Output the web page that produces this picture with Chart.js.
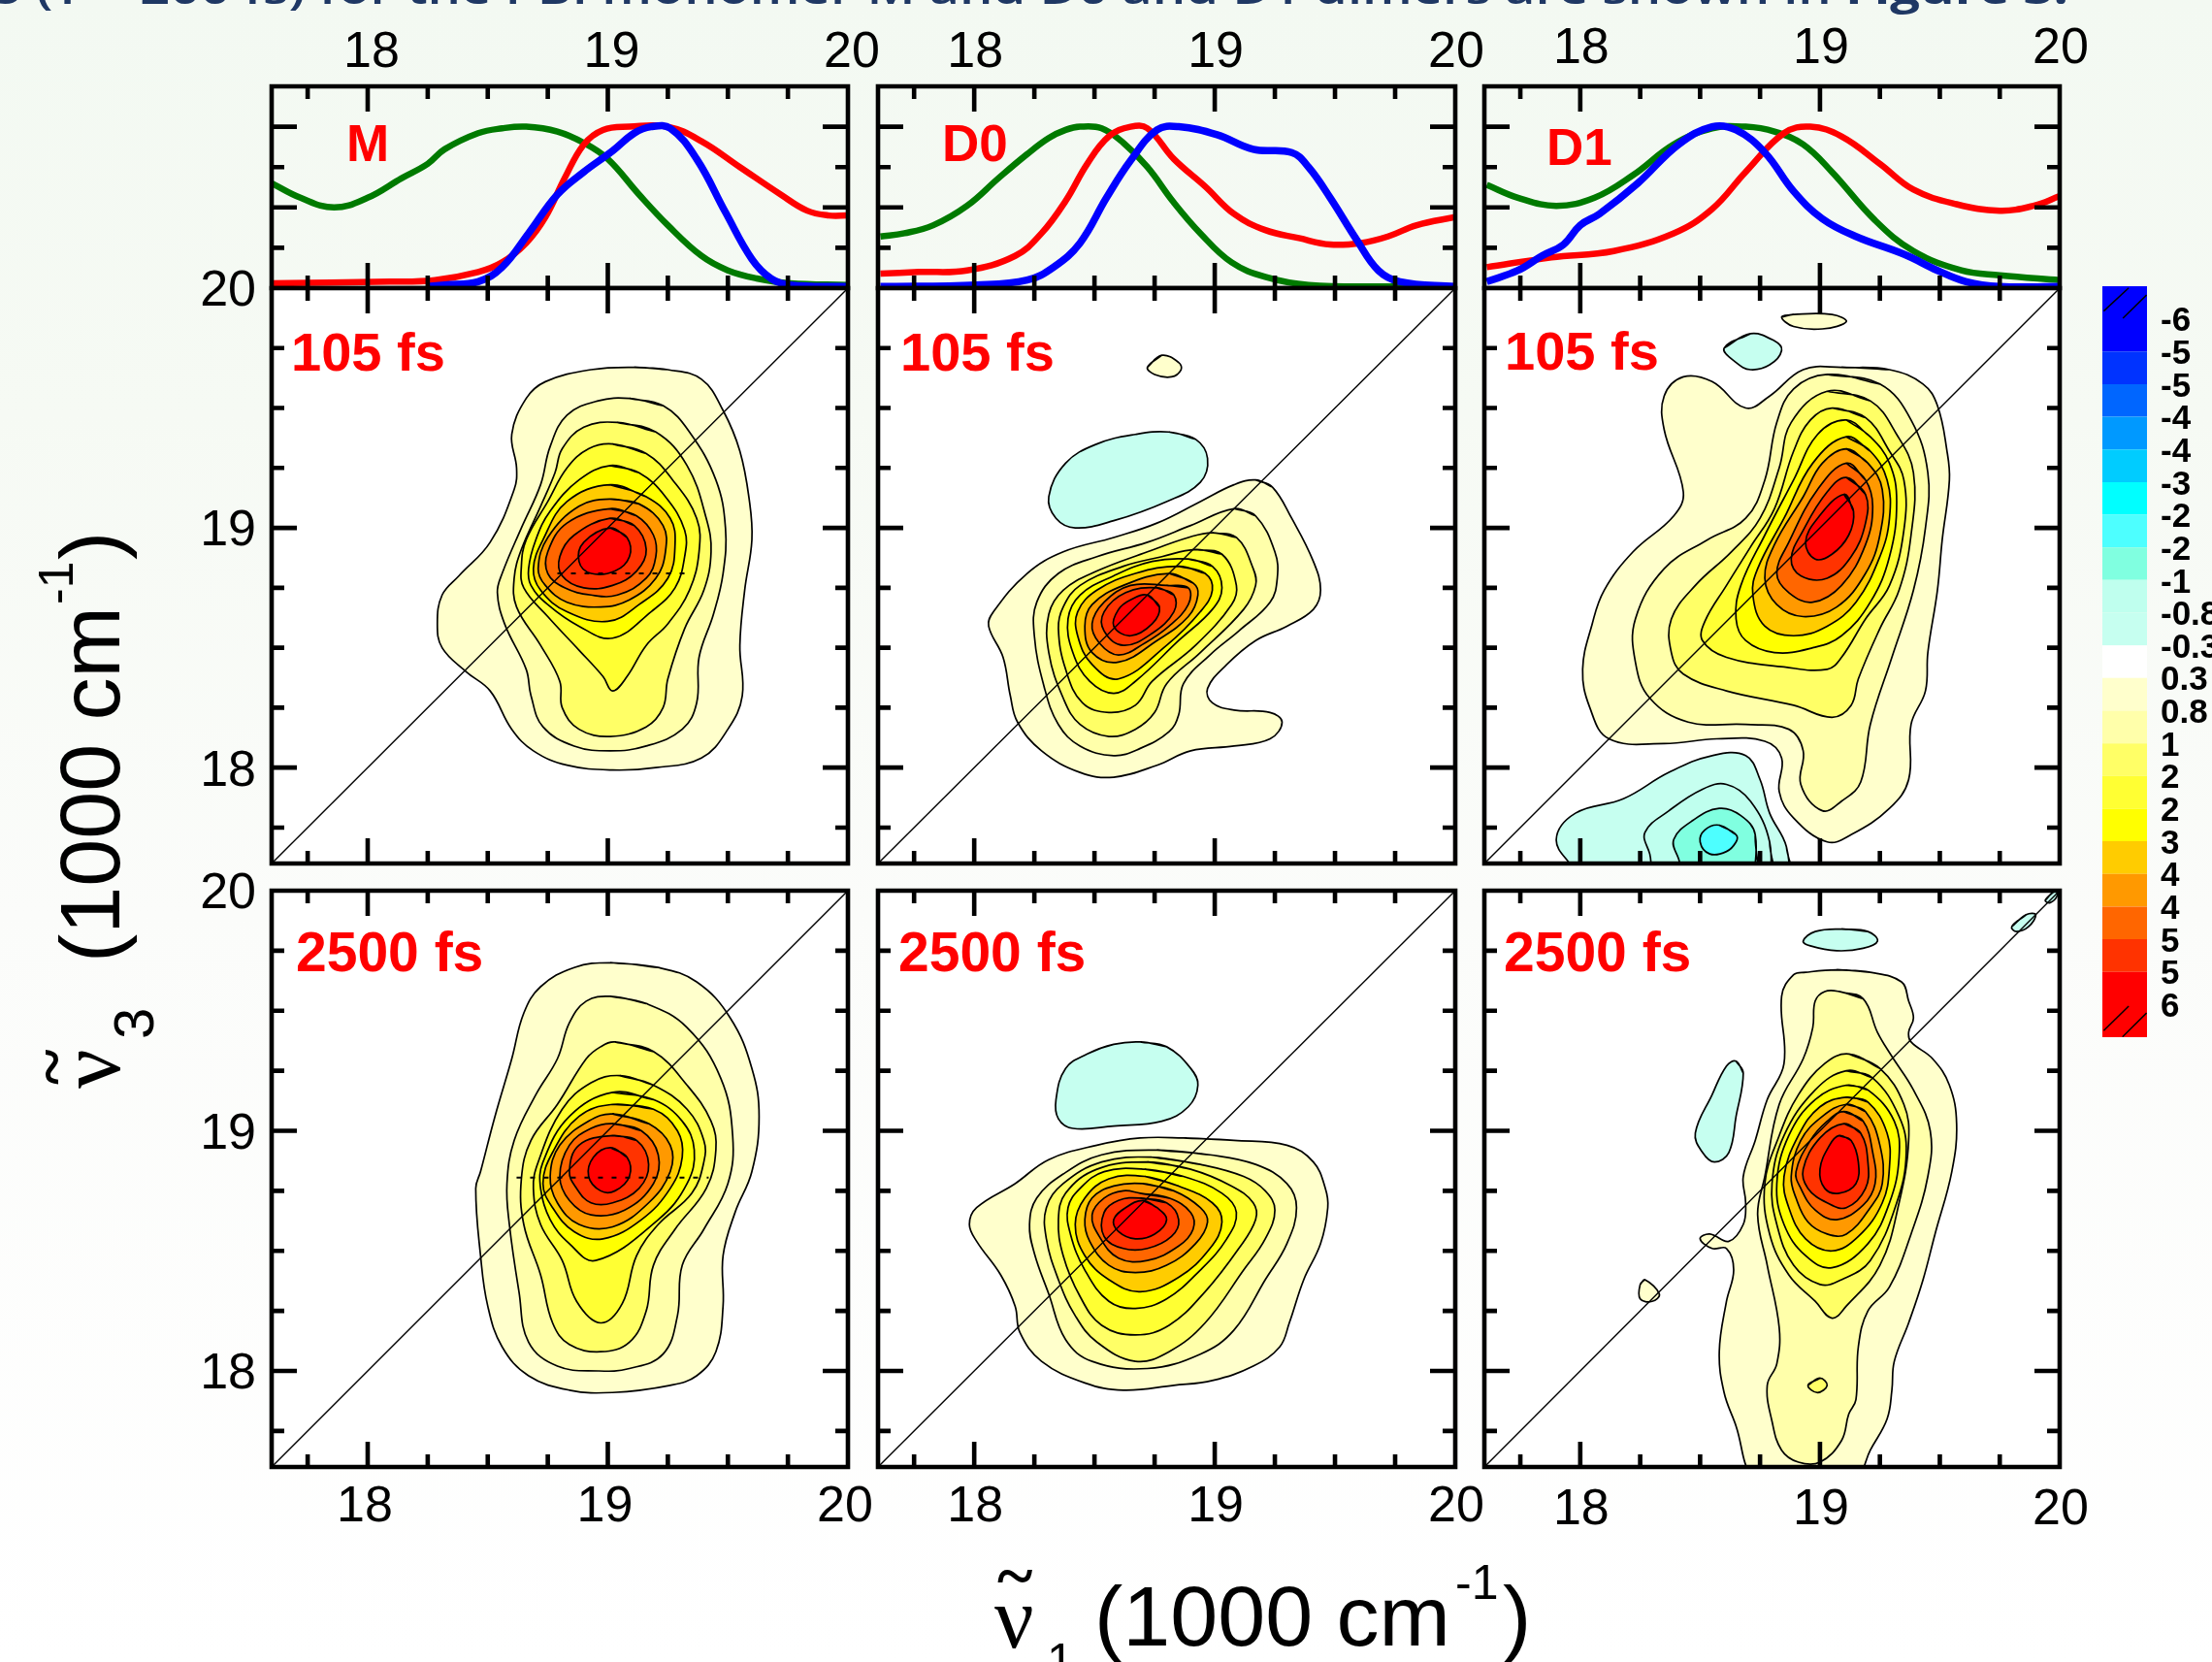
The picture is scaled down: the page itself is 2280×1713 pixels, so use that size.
<!DOCTYPE html>
<html><head><meta charset="utf-8">
<script src="https://cdn.jsdelivr.net/npm/chart.js@4"></script>
<style>
html,body{margin:0;padding:0;width:2280px;height:1713px;overflow:hidden;background:linear-gradient(180deg,#F3F9F2 0%,#F6FAF4 25%,#FBFCFA 55%,#FFFFFF 100%);}
canvas{position:absolute;}
svg{position:absolute;left:0;top:0;pointer-events:none;}
</style></head><body>
<script>
// ---------- axis values (1000 cm-1) ----------
const xTickValues=[17.75,18,18.25,18.5,18.75,19,19.25,19.5,19.75,20];
const yTickValues=[17.75,18,18.25,18.5,18.75,19,19.25,19.5,19.75,20];
const specYTicks=[0,0.25,0.5,0.75,1];
// ---------- linear absorption spectra: [x,y, x,y ...] ----------
const M_green=[17.60,.65,17.72,.56,17.86,.50,18.00,.56,18.14,.68,18.25,.77,18.32,.86,18.46,.96,18.56,.99,18.66,1.0,18.79,.97,18.90,.90,19.00,.80,19.13,.58,19.25,.39,19.39,.20,19.50,.11,19.62,.06,19.76,.03,20,.02];
const M_red=[17.60,.03,18.09,.04,18.28,.05,18.46,.10,18.56,.16,18.66,.28,18.74,.44,18.82,.68,18.90,.89,18.98,.98,19.09,1.0,19.25,1.0,19.39,.91,19.55,.75,19.72,.58,19.83,.48,19.92,.45,20,.45];
const M_blue=[18.25,.01,18.32,.02,18.46,.04,18.56,.13,18.67,.34,18.79,.58,18.90,.72,19.02,.85,19.11,.96,19.18,1.0,19.26,.99,19.37,.80,19.49,.47,19.60,.18,19.68,.06,19.76,.02,20,.01];
const D0_green=[17.61,.32,17.71,.34,17.83,.39,17.97,.51,18.10,.68,18.22,.83,18.31,.93,18.38,.98,18.44,1.0,18.53,.99,18.62,.90,18.72,.75,18.83,.53,18.94,.34,19.07,.16,19.21,.07,19.39,.02,19.74,.01,20,.01];
const D0_red=[17.61,.09,17.77,.10,17.97,.11,18.17,.20,18.28,.34,18.38,.54,18.47,.77,18.56,.94,18.65,1.0,18.72,.99,18.83,.80,18.96,.63,19.08,.46,19.21,.36,19.35,.31,19.48,.27,19.61,.28,19.72,.32,19.84,.39,20,.44];
const D0_blue=[17.61,.01,18.01,.02,18.22,.05,18.33,.13,18.44,.28,18.55,.56,18.65,.79,18.76,.98,18.85,1.0,19.01,.95,19.16,.86,19.32,.84,19.39,.75,19.48,.56,19.59,.30,19.68,.11,19.77,.04,20,.01];
const D1_green=[17.61,.64,17.74,.56,17.90,.51,18.06,.56,18.22,.70,18.39,.89,18.55,.99,18.69,1.0,18.81,.97,18.93,.89,19.05,.72,19.23,.42,19.39,.23,19.59,.11,19.75,.08,20,.05];
const D1_red=[17.61,.13,17.88,.19,18.14,.23,18.39,.34,18.55,.49,18.69,.72,18.85,.96,18.96,1.0,19.09,.94,19.25,.77,19.39,.61,19.57,.52,19.75,.48,19.89,.51,20,.57];
const D1_blue=[17.61,.04,17.74,.11,17.84,.20,17.93,.27,18.00,.39,18.08,.46,18.24,.65,18.41,.89,18.55,1.0,18.65,.98,18.77,.84,18.89,.60,19.01,.43,19.15,.32,19.35,.21,19.49,.11,19.61,.04,19.75,.01,20,.01];
// ---------- 2D contours, outermost (0.3) to innermost: [v1,v3, ...] ----------
const M_105=[
[19.11,19.67,19.25,19.66,19.39,19.62,19.48,19.49,19.55,19.32,19.59,19.11,19.60,18.95,19.57,18.74,19.55,18.51,19.56,18.30,19.50,18.16,19.39,18.04,19.20,18.00,19.02,17.99,18.83,18.01,18.69,18.07,18.60,18.16,18.51,18.32,18.41,18.40,18.31,18.50,18.29,18.60,18.31,18.72,18.38,18.80,18.51,18.94,18.61,19.16,18.62,19.25,18.60,19.39,18.66,19.54,18.74,19.61,18.93,19.66],
[19.09,19.54,19.23,19.51,19.34,19.40,19.45,19.20,19.49,19.00,19.48,18.81,19.44,18.64,19.38,18.46,19.37,18.27,19.31,18.16,19.16,18.09,19.01,18.07,18.86,18.09,18.73,18.17,18.68,18.30,18.66,18.41,18.57,18.60,18.54,18.73,18.56,18.81,18.64,19.00,18.72,19.18,18.76,19.34,18.83,19.47,18.96,19.53],
[19.04,19.44,19.20,19.40,19.33,19.26,19.41,19.04,19.43,18.90,19.40,18.74,19.32,18.58,19.25,18.37,19.23,18.25,19.16,18.17,19.01,18.13,18.88,18.16,18.81,18.25,18.80,18.36,18.72,18.51,18.62,18.67,18.61,18.79,18.64,18.91,18.72,19.09,18.78,19.23,18.81,19.33,18.90,19.42],
[19.02,19.35,19.16,19.31,19.27,19.20,19.37,19.04,19.38,18.90,19.34,18.74,19.25,18.60,19.16,18.51,19.08,18.38,19.02,18.32,18.98,18.38,18.88,18.49,18.75,18.63,18.65,18.75,18.64,18.84,18.66,18.95,18.75,19.11,18.83,19.25,18.92,19.33],
[19.01,19.26,19.13,19.23,19.24,19.13,19.32,18.99,19.32,18.88,19.28,18.75,19.18,18.65,19.02,18.54,18.88,18.59,18.75,18.68,18.68,18.76,18.67,18.83,18.70,18.95,18.76,19.07,18.88,19.20],
[19.01,19.18,19.16,19.13,19.26,19.04,19.28,18.93,19.25,18.79,19.13,18.68,19.00,18.61,18.83,18.65,18.72,18.74,18.69,18.83,18.73,18.95,18.83,19.11],
[19.01,19.12,19.13,19.10,19.23,19.01,19.24,18.90,19.20,18.79,19.09,18.70,18.97,18.67,18.83,18.69,18.74,18.76,18.71,18.83,18.75,18.96,18.88,19.09],
[19.01,19.08,19.12,19.05,19.19,18.97,19.20,18.88,19.16,18.79,19.04,18.72,18.93,18.72,18.82,18.75,18.75,18.81,18.75,18.90,18.83,19.02],
[19.01,19.04,19.11,19.01,19.16,18.91,19.12,18.82,19.02,18.76,18.90,18.75,18.81,18.80,18.80,18.88,18.86,18.97],
[19.01,19.00,19.08,18.96,19.09,18.88,19.03,18.82,18.93,18.81,18.88,18.86,18.90,18.94]];
const D0_105=[
[19.17,19.20,19.24,19.17,19.32,19.04,19.41,18.86,19.44,18.74,19.41,18.66,19.30,18.59,19.17,18.53,19.05,18.43,18.97,18.33,18.99,18.27,19.08,18.24,19.23,18.23,19.28,18.19,19.23,18.12,19.08,18.09,18.90,18.07,18.76,18.01,18.58,17.96,18.44,17.98,18.28,18.07,18.18,18.19,18.15,18.30,18.12,18.46,18.06,18.59,18.08,18.65,18.22,18.81,18.37,18.90,18.58,18.96,18.76,19.02,18.94,19.11,19.08,19.18],
[19.08,19.08,19.17,19.05,19.25,18.90,19.26,18.79,19.23,18.69,19.10,18.57,18.98,18.47,18.87,18.35,18.85,18.22,18.81,18.15,18.69,18.08,18.58,18.05,18.44,18.09,18.35,18.18,18.29,18.34,18.25,18.55,18.26,18.69,18.35,18.81,18.51,18.88,18.72,18.94,18.90,19.01],
[18.99,18.98,19.09,18.96,19.16,18.83,19.17,18.76,19.12,18.66,18.94,18.48,18.80,18.35,18.75,18.23,18.67,18.16,18.56,18.13,18.44,18.18,18.37,18.29,18.31,18.48,18.31,18.64,18.37,18.74,18.51,18.82,18.72,18.90,18.89,18.96],
[18.92,18.91,19.03,18.89,19.09,18.76,19.07,18.68,18.92,18.51,18.74,18.36,18.67,18.26,18.56,18.23,18.45,18.27,18.38,18.41,18.35,18.58,18.37,18.67,18.44,18.76,18.62,18.84,18.78,18.88],
[18.89,18.87,18.99,18.84,19.03,18.75,18.99,18.66,18.85,18.53,18.67,18.36,18.58,18.31,18.48,18.36,18.41,18.48,18.39,18.62,18.44,18.72,18.58,18.80,18.74,18.86],
[18.85,18.84,18.96,18.81,18.99,18.74,18.94,18.65,18.80,18.51,18.60,18.37,18.49,18.43,18.43,18.55,18.43,18.65,18.51,18.74,18.67,18.81],
[18.81,18.81,18.91,18.77,18.93,18.72,18.89,18.63,18.76,18.53,18.60,18.44,18.49,18.48,18.46,18.59,18.49,18.68,18.62,18.76],
[18.80,18.76,18.89,18.75,18.89,18.68,18.81,18.59,18.71,18.52,18.60,18.47,18.52,18.52,18.49,18.60,18.54,18.69,18.65,18.76],
[18.76,18.75,18.83,18.72,18.83,18.65,18.74,18.56,18.62,18.51,18.54,18.57,18.54,18.65,18.63,18.73],
[18.72,18.72,18.77,18.67,18.74,18.60,18.65,18.55,18.58,18.59,18.60,18.66,18.65,18.70]];
const D1_105=[
[19.09,19.67,19.29,19.66,19.43,19.60,19.49,19.51,19.53,19.32,19.54,19.20,19.51,18.95,19.49,18.74,19.45,18.48,19.44,18.32,19.38,18.18,19.37,17.95,19.29,17.83,19.13,17.72,19.03,17.69,18.89,17.79,18.83,17.90,18.84,18.04,18.77,18.11,18.57,18.12,18.35,18.10,18.12,18.12,18.04,18.25,18.01,18.41,18.05,18.60,18.10,18.74,18.22,18.90,18.39,19.05,18.43,19.15,18.35,19.41,18.35,19.55,18.43,19.63,18.55,19.61,18.69,19.50,18.79,19.55,18.93,19.66],
[19.03,19.64,19.25,19.60,19.38,19.45,19.45,19.23,19.44,19.00,19.39,18.74,19.30,18.46,19.21,18.18,19.17,17.94,19.09,17.86,19.01,17.82,18.92,17.93,18.93,18.07,18.87,18.16,18.69,18.18,18.45,18.19,18.29,18.29,18.23,18.44,18.23,18.62,18.35,18.83,18.53,18.95,18.69,19.04,18.77,19.20,18.82,19.44,18.89,19.58],
[19.03,19.57,19.21,19.53,19.32,19.39,19.39,19.23,19.38,18.97,19.33,18.74,19.25,18.58,19.16,18.37,19.13,18.26,19.05,18.21,18.89,18.26,18.61,18.32,18.43,18.39,18.38,18.48,18.38,18.62,18.48,18.76,18.63,18.90,18.75,19.04,18.83,19.25,18.88,19.44],
[19.05,19.50,19.19,19.46,19.29,19.32,19.35,19.20,19.35,18.99,19.29,18.76,19.19,18.62,19.09,18.46,19.03,18.41,18.85,18.42,18.61,18.46,18.51,18.53,18.52,18.61,18.61,18.76,18.71,18.92,18.81,19.08,18.89,19.32,18.96,19.45],
[19.11,19.45,19.21,19.38,19.29,19.27,19.32,19.11,19.29,18.88,19.21,18.69,19.09,18.55,18.97,18.50,18.81,18.48,18.69,18.53,18.65,18.62,18.67,18.76,18.77,18.97,18.89,19.20,18.99,19.39],
[19.11,19.38,19.21,19.32,19.28,19.20,19.29,19.04,19.25,18.88,19.15,18.69,19.03,18.59,18.89,18.55,18.77,18.59,18.72,18.72,18.74,18.83,18.85,19.04,18.97,19.27],
[19.11,19.33,19.20,19.27,19.26,19.16,19.25,18.97,19.19,18.81,19.07,18.67,18.93,18.63,18.82,18.68,18.77,18.79,18.81,18.93,18.93,19.13,19.01,19.27],
[19.11,19.27,19.19,19.20,19.22,19.09,19.19,18.93,19.09,18.76,18.97,18.69,18.87,18.73,18.82,18.81,18.87,18.94,18.99,19.16],
[19.11,19.21,19.19,19.14,19.19,19.02,19.13,18.88,19.03,18.79,18.92,18.80,18.88,18.87,18.93,18.99,19.03,19.15],
[19.10,19.14,19.14,19.07,19.12,18.97,19.05,18.89,18.98,18.87,18.94,18.94,18.99,19.04]];
const M_2500=[
[19.01,19.70,19.21,19.68,19.37,19.62,19.51,19.47,19.60,19.26,19.63,19.06,19.60,18.83,19.53,18.66,19.48,18.48,19.48,18.27,19.45,18.08,19.37,17.98,19.26,17.94,19.02,17.91,18.84,17.92,18.67,17.98,18.56,18.10,18.50,18.27,18.47,18.48,18.45,18.76,18.47,18.83,18.53,19.06,18.60,19.30,18.65,19.49,18.72,19.60,18.86,19.68],
[19.01,19.56,19.16,19.53,19.33,19.43,19.47,19.22,19.52,18.98,19.50,18.78,19.40,18.59,19.31,18.44,19.29,18.23,19.23,18.07,19.09,18.01,18.96,18.00,18.79,18.02,18.67,18.12,18.63,18.33,18.59,18.61,18.58,18.78,18.61,18.96,18.70,19.15,18.79,19.30,18.84,19.45,18.91,19.54],
[19.03,19.37,19.19,19.33,19.33,19.19,19.43,19.04,19.45,18.92,19.41,18.76,19.28,18.59,19.19,18.44,19.16,18.25,19.09,18.12,18.97,18.08,18.84,18.11,18.77,18.20,18.72,18.40,18.65,18.61,18.64,18.80,18.68,18.96,18.79,19.11,18.91,19.30,18.97,19.35],
[19.05,19.23,19.19,19.19,19.33,19.09,19.40,18.96,19.40,18.87,19.35,18.74,19.21,18.61,19.12,18.48,19.06,18.28,18.97,18.20,18.87,18.29,18.81,18.46,18.72,18.61,18.69,18.76,18.71,18.87,18.81,19.09,18.93,19.20],
[19.02,19.16,19.19,19.13,19.31,19.04,19.36,18.92,19.33,18.78,19.21,18.63,18.95,18.46,18.84,18.53,18.76,18.63,18.72,18.76,18.73,18.87,18.84,19.06],
[19.02,19.11,19.19,19.09,19.29,19.00,19.31,18.89,19.26,18.76,19.14,18.63,18.98,18.55,18.86,18.58,18.77,18.68,18.73,18.78,18.77,18.91,18.88,19.06],
[19.02,19.07,19.17,19.03,19.26,18.94,19.26,18.83,19.17,18.70,19.02,18.60,18.88,18.61,18.79,18.70,18.76,18.81,18.80,18.94,18.92,19.04],
[19.02,19.03,19.14,19.00,19.21,18.90,19.19,18.78,19.07,18.67,18.93,18.65,18.84,18.71,18.80,18.81,18.84,18.94,18.93,19.01],
[19.02,18.98,19.12,18.96,19.17,18.86,19.13,18.76,19.02,18.70,18.93,18.70,18.87,18.76,18.84,18.83,18.88,18.94],
[19.01,18.93,19.08,18.89,19.09,18.81,19.03,18.75,18.97,18.75,18.92,18.81,18.94,18.89]];
const D0_2500=[
[18.87,18.97,19.08,18.96,19.30,18.94,19.41,18.87,19.46,18.76,19.47,18.68,19.44,18.53,19.37,18.38,19.31,18.20,19.27,18.10,19.16,18.02,18.99,17.96,18.83,17.94,18.62,17.92,18.46,17.95,18.28,18.04,18.19,18.16,18.17,18.27,18.11,18.40,18.01,18.54,17.98,18.61,18.01,18.68,18.17,18.78,18.31,18.88,18.51,18.94,18.69,18.97],
[18.76,18.92,18.98,18.90,19.17,18.86,19.30,18.78,19.34,18.68,19.30,18.53,19.21,18.38,19.08,18.17,18.94,18.07,18.72,18.01,18.49,18.04,18.38,18.13,18.31,18.32,18.25,18.49,18.23,18.61,18.26,18.72,18.37,18.82,18.53,18.90],
[18.74,18.89,18.94,18.86,19.12,18.81,19.21,18.75,19.25,18.67,19.21,18.55,19.12,18.42,18.96,18.20,18.81,18.08,18.67,18.04,18.51,18.12,18.42,18.23,18.35,18.38,18.30,18.55,18.30,18.68,18.37,18.78,18.53,18.87],
[18.72,18.87,18.90,18.84,19.07,18.77,19.16,18.70,19.17,18.63,19.10,18.51,18.96,18.33,18.81,18.19,18.67,18.15,18.53,18.19,18.44,18.31,18.37,18.48,18.35,18.63,18.38,18.74,18.51,18.84],
[18.71,18.84,18.87,18.81,19.03,18.74,19.09,18.66,19.05,18.55,18.94,18.42,18.80,18.30,18.67,18.26,18.56,18.29,18.46,18.42,18.40,18.57,18.39,18.68,18.44,18.76,18.54,18.83],
[18.71,18.81,18.85,18.77,18.99,18.70,19.03,18.62,18.98,18.51,18.85,18.39,18.69,18.33,18.56,18.38,18.46,18.48,18.42,18.61,18.46,18.72,18.56,18.80],
[18.70,18.78,18.83,18.75,18.94,18.68,18.97,18.62,18.92,18.53,18.80,18.44,18.67,18.41,18.56,18.44,18.48,18.54,18.46,18.63,18.49,18.72,18.58,18.77],
[18.69,18.74,18.81,18.72,18.90,18.66,18.91,18.59,18.85,18.52,18.72,18.46,18.60,18.47,18.52,18.56,18.49,18.65,18.54,18.72,18.62,18.75],
[18.69,18.72,18.80,18.70,18.85,18.63,18.82,18.56,18.72,18.51,18.62,18.51,18.54,18.56,18.54,18.66,18.60,18.71],
[18.70,18.71,18.76,18.68,18.80,18.63,18.75,18.57,18.67,18.55,18.60,18.58,18.58,18.63,18.63,18.68]];
const D1_2500=[
[19.07,19.67,19.21,19.66,19.34,19.62,19.37,19.54,19.39,19.47,19.37,19.41,19.38,19.37,19.47,19.30,19.54,19.19,19.57,19.03,19.55,18.83,19.48,18.57,19.43,18.38,19.37,18.20,19.31,18.04,19.30,17.92,19.28,17.80,19.21,17.67,19.15,17.55,18.90,17.40,18.72,17.55,18.65,17.77,18.60,17.91,18.58,18.08,18.61,18.29,18.64,18.42,18.61,18.51,18.55,18.51,18.50,18.55,18.54,18.57,18.62,18.54,18.68,18.61,18.69,18.70,18.68,18.81,18.73,18.96,18.78,19.13,18.85,19.28,18.84,19.56,18.89,19.65,18.94,19.66],
[19.08,19.58,19.18,19.55,19.24,19.41,19.30,19.31,19.39,19.17,19.46,19.00,19.45,18.81,19.38,18.57,19.29,18.35,19.20,18.25,19.16,18.10,19.15,17.88,19.12,17.82,19.09,17.71,19.00,17.62,18.91,17.62,18.84,17.67,18.80,17.79,18.78,17.94,18.82,18.03,18.83,18.18,18.78,18.44,18.74,18.65,18.77,18.81,18.83,19.11,18.93,19.30,18.97,19.43,18.98,19.54,19.02,19.58],
[19.12,19.32,19.25,19.26,19.35,19.11,19.37,18.96,19.33,18.70,19.25,18.44,19.11,18.27,19.05,18.22,18.98,18.29,18.87,18.40,18.79,18.57,18.77,18.78,18.83,18.98,18.91,19.15,19.02,19.28],
[19.11,19.25,19.22,19.22,19.33,19.06,19.36,18.91,19.32,18.70,19.21,18.46,19.09,18.38,19.00,18.36,18.89,18.44,18.82,18.61,18.80,18.78,18.85,18.98,18.98,19.17],
[19.11,19.19,19.20,19.17,19.31,19.04,19.33,18.89,19.29,18.70,19.20,18.53,19.05,18.43,18.94,18.48,18.85,18.61,18.82,18.78,18.87,18.98,18.98,19.13],
[19.11,19.14,19.20,19.12,19.28,18.99,19.29,18.85,19.26,18.70,19.16,18.56,19.05,18.50,18.94,18.55,18.87,18.68,18.85,18.81,18.91,18.98,19.00,19.10],
[19.11,19.11,19.19,19.08,19.25,18.94,19.26,18.78,19.21,18.68,19.11,18.57,19.03,18.57,18.95,18.62,18.90,18.72,18.88,18.81,18.92,18.96,19.01,19.06],
[19.10,19.08,19.18,19.04,19.22,18.91,19.23,18.78,19.18,18.69,19.07,18.63,18.98,18.67,18.92,18.76,18.90,18.83,18.96,18.96,19.03,19.04],
[19.10,19.03,19.17,18.99,19.20,18.87,19.19,18.76,19.11,18.68,19.03,18.70,18.95,18.76,18.93,18.84,19.00,18.97],
[19.08,18.98,19.13,18.96,19.16,18.87,19.15,18.78,19.08,18.74,19.02,18.76,19.00,18.84,19.04,18.94]];
// ---------- isolated islands: band number (+ positive, - negative), then points ----------
const D0_105_islands=[[1,[18.72,19.67,18.78,19.72,18.85,19.69,18.86,19.66,18.82,19.63,18.75,19.64]],
 [-1,[18.81,19.40,18.92,19.37,18.97,19.29,18.94,19.19,18.80,19.11,18.58,19.03,18.42,19.00,18.34,19.04,18.31,19.13,18.38,19.27,18.51,19.35,18.67,19.39]]];
const D1_105_islands=[[1,[18.84,19.88,18.89,19.89,19.05,19.89,19.11,19.86,19.01,19.83,18.89,19.84]],
 [-1,[18.60,19.75,18.71,19.81,18.81,19.78,18.84,19.74,18.79,19.68,18.71,19.66,18.65,19.69]],
 [-1,[18.88,17.45,18.86,17.67,18.79,17.81,18.75,17.95,18.69,18.05,18.55,18.05,18.37,17.98,18.18,17.87,17.98,17.81,17.90,17.70,17.97,17.58,18.05,17.45]],
 [-2,[18.79,17.50,18.79,17.69,18.71,17.86,18.61,17.93,18.51,17.91,18.37,17.82,18.27,17.73,18.29,17.64,18.33,17.50]],
 [-3,[18.72,17.50,18.73,17.72,18.67,17.80,18.58,17.83,18.47,17.78,18.39,17.70,18.41,17.62,18.46,17.50]],
 [-4,[18.58,17.76,18.65,17.72,18.65,17.69,18.61,17.65,18.54,17.64,18.50,17.69,18.52,17.74]]];
const D0_2500_islands=[[-1,[18.69,19.37,18.80,19.35,18.90,19.26,18.93,19.19,18.89,19.10,18.78,19.04,18.58,19.02,18.41,19.01,18.35,19.05,18.34,19.13,18.38,19.26,18.47,19.32,18.58,19.36]]];
const D1_2500_islands=[[3,[18.95,17.94,19.00,17.97,19.03,17.94,18.99,17.91]],
 [-1,[19.09,19.84,19.20,19.83,19.24,19.79,19.18,19.76,19.07,19.75,18.96,19.77,18.93,19.79,18.98,19.83]],
 [-1,[18.65,19.29,18.68,19.24,18.65,19.06,18.62,18.91,18.56,18.87,18.51,18.91,18.48,18.99,18.55,19.15,18.61,19.27]],
 [-1,[19.80,19.85,19.86,19.90,19.90,19.90,19.87,19.85,19.82,19.83]],
 [-1,[19.94,19.96,19.98,20.00,19.99,19.98,19.96,19.95]],
 [1,[18.25,18.36,18.27,18.38,18.33,18.32,18.30,18.29,18.25,18.30]]];
const M_105_seam=[18.79,18.81,19.34,18.81];
const M_2500_seam=[18.62,18.805,19.42,18.805];
const diagonal=[17.6,17.6,20,20];
// ---------- colour bar ----------
const barTickLabels=['-6','-5','-5','-4','-4','-3','-2','-2','-1','-0.8','-0.3','0.3','0.8','1','2','2','3','4','4','5','5','6'];
const barEdges=[0,2,3,4,5,6,7,8,9,10,11,12,13,14,15,16,17,18,19,20,21,23];
const negColors=['#C6FFF0','#BFFFEE','#80FFE0','#4DFFFF','#00FFFF','#00CCFF','#0099FF','#0066FF','#0033FF','#0000FF'];
const posColors=['#FFFFCC','#FFFFAA','#FFFF66','#FFFF33','#FFFF00','#FFCC00','#FF9900','#FF6600','#FF3300','#FF0000'];
const barColors=[...negColors.slice().reverse(),'#FFFFFF',...posColors];
const barHatch=[[.03,.76,.59,.05],[.46,.98,.99,.27],[.03,22.8,.59,22.05],[.45,22.99,.99,22.26]];

const pts=a=>{const r=[];for(let i=0;i<a.length;i+=2)r.push({x:a[i],y:a[i+1]});return r;};
const closed=a=>{const p=pts(a);return [...p,p[0],p[1]];};
const contourDs=(a,color)=>({data:closed(a),showLine:true,fill:'shape',backgroundColor:color,borderColor:'#000',borderWidth:1.7,tension:.4,pointRadius:0,capBezierPoints:false,borderJoinStyle:'round'});
const lineDs=(a,color,w,t,dash)=>({data:pts(a),showLine:true,fill:false,borderColor:color,borderWidth:w,tension:t,pointRadius:0,borderDash:dash||[],capBezierPoints:false});

const framePlugin={id:'frame',
 beforeDatasetsDraw(c,_,o){ if(o.white){const a=c.chartArea;c.ctx.save();c.ctx.fillStyle='#fff';c.ctx.fillRect(a.left,a.top,a.width,a.height);c.ctx.restore();}},
 afterDatasetsDraw(c,_,o){ if(!o.ticks) return;
  const a=c.chartArea,x=c.scales.x,y=c.scales.y,ctx=c.ctx;ctx.save();ctx.strokeStyle='#000';ctx.lineWidth=4.6;ctx.lineCap='butt';
  ctx.beginPath();
  x.ticks.forEach(t=>{const p=x.getPixelForValue(t.value),l=Number.isInteger(t.value)?26:13;ctx.moveTo(p,a.top);ctx.lineTo(p,a.top+l);ctx.moveTo(p,a.bottom);ctx.lineTo(p,a.bottom-l);});
  y.ticks.forEach(t=>{const p=y.getPixelForValue(t.value),l=Number.isInteger(t.value*o.yMajorPer)?26:13;ctx.moveTo(a.left,p);ctx.lineTo(a.left+l,p);ctx.moveTo(a.right,p);ctx.lineTo(a.right-l,p);});
  ctx.rect(a.left,a.top,a.width,a.height);ctx.stroke();ctx.restore();}
};
const M=90;
const tickFont={family:'"Liberation Sans",Arial,sans-serif',size:52};
function makeChart(L,T,R,B,datasets,cfg){
 const cv=document.createElement('canvas');cv.width=R-L+2*M;cv.height=B-T+2*M;cv.style.left=(L-M)+'px';cv.style.top=(T-M)+'px';cv.style.width=cv.width+'px';cv.style.height=cv.height+'px';document.body.appendChild(cv);
 const intLabel=v=>Number.isInteger(v)?String(v):'';
 const xp=cfg.xPos||'bottom';
 return new Chart(cv,{type:'scatter',data:{datasets:datasets.slice().reverse()},plugins:[framePlugin],options:{
  responsive:false,animation:false,events:[],devicePixelRatio:1,layout:{padding:{left:0,right:M,top:xp==='top'?0:M,bottom:xp==='bottom'?0:M}},
  plugins:{legend:{display:false},tooltip:{enabled:false},frame:{white:cfg.white,ticks:true,yMajorPer:cfg.yMajorPer||1}},
  scales:{
   x:{type:'linear',min:17.6,max:20,position:xp,grid:{display:false,drawTicks:false},border:{display:false},
      afterBuildTicks:s=>{s.ticks=xTickValues.map(v=>({value:v}));},afterFit:s=>{s.height=M;},
      ticks:{display:!!cfg.xLabels,autoSkip:false,maxRotation:0,font:tickFont,color:'#000',padding:cfg.xPad,labelOffset:cfg.xOff||0,callback:intLabel}},
   y:{type:'linear',min:cfg.yMin,max:cfg.yMax,position:'left',grid:{display:false,drawTicks:false},border:{display:false},
      afterBuildTicks:s=>{s.ticks=cfg.yTicks.map(v=>({value:v}));},afterFit:s=>{s.width=M;},
      ticks:{display:!!cfg.yLabels,autoSkip:false,font:tickFont,color:'#000',padding:16,labelOffset:4,callback:intLabel}}
  }}});
}
const cols=[[280,874],[905,1500],[1530,2123]];
const specRow=[89,297],row1=[297,890],row2=[918,1512];
// spectra
[[M_green,M_red,M_blue],[D0_green,D0_red,D0_blue],[D1_green,D1_red,D1_blue]].forEach((s,i)=>{
 makeChart(cols[i][0],specRow[0],cols[i][1],specRow[1],[lineDs(s[0],'#007A00',6.5,.4),lineDs(s[1],'#FF0000',6.5,.4),lineDs(s[2],'#0000FF',7.5,.4)],
  {white:false,xPos:'top',xLabels:true,xPad:i==2?7:3,xOff:i==0?4:1,yMin:0,yMax:1.25,yTicks:specYTicks,yMajorPer:2});
});
function panel(c,rowBox,cs,isl,seam,cfg){
 const ds=cs.map((a,i)=>contourDs(a,posColors[i]));
 (isl||[]).forEach(([b,a])=>ds.push(contourDs(a,b>0?posColors[b-1]:negColors[-b-1])));
 if(seam) ds.push(lineDs(seam,'#000',2,0,[5,9]));
 ds.push(lineDs(diagonal,'#000',1.4,0));
 makeChart(cols[c][0],rowBox[0],cols[c][1],rowBox[1],ds,Object.assign({white:true,yMin:17.6,yMax:20,yTicks:yTickValues,xPad:8},cfg));
}
panel(0,row1,M_105,null,M_105_seam,{yLabels:true});
panel(1,row1,D0_105,D0_105_islands,null,{});
panel(2,row1,D1_105,D1_105_islands,null,{});
panel(0,row2,M_2500,null,M_2500_seam,{yLabels:true,xLabels:true,xPad:10,xOff:-3});
panel(1,row2,D0_2500,D0_2500_islands,null,{xLabels:true,xPad:10,xOff:1});
panel(2,row2,D1_2500,D1_2500_islands,null,{xLabels:true,xPad:13,xOff:1});
// colour bar
(function(){
 const L=2167,R=2213,T=295,B=1069,pad=70;
 const cv=document.createElement('canvas');cv.width=R-L+pad*2;cv.height=B-T+pad*2;cv.style.left=(L-pad)+'px';cv.style.top=(T-pad)+'px';cv.style.width=cv.width+'px';cv.style.height=cv.height+'px';document.body.appendChild(cv);
 const ds=barColors.map((col,i)=>({data:[{x:0,y:barEdges[i]},{x:1,y:barEdges[i]},{x:1,y:barEdges[i+1]},{x:0,y:barEdges[i+1]},{x:0,y:barEdges[i]}],showLine:true,fill:'shape',backgroundColor:col,borderColor:col,borderWidth:0,pointRadius:0}));
 barHatch.forEach(h=>ds.push(lineDs(h,'#000',1.5,0)));
 new Chart(cv,{type:'scatter',data:{datasets:ds.reverse()},options:{responsive:false,animation:false,events:[],devicePixelRatio:1,layout:{padding:{left:pad,top:pad,bottom:pad,right:0}},
  plugins:{legend:{display:false},tooltip:{enabled:false}},
  scales:{x:{type:'linear',min:0,max:1,display:false},
   y:{type:'linear',min:0,max:23,reverse:true,position:'right',grid:{display:false,drawTicks:false},border:{display:false},
    afterBuildTicks:s=>{s.ticks=barTickLabels.map((_,i)=>({value:i+1}));},afterFit:s=>{s.width=pad;},
    ticks:{autoSkip:false,color:'#000',padding:14,labelOffset:3,font:{family:'"Liberation Sans",Arial,sans-serif',size:35,weight:'bold'},callback:v=>barTickLabels[v-1]}}}}});
})();
// text overlay
const NS='http://www.w3.org/2000/svg';
const svg=document.createElementNS(NS,'svg');svg.setAttribute('width',2280);svg.setAttribute('height',1713);document.body.appendChild(svg);
function T(str,x,y,size,o={}){const t=document.createElementNS(NS,'text');t.textContent=str;t.setAttribute('x',0);t.setAttribute('y',0);
 t.setAttribute('transform',`translate(${x},${y})`+(o.rot?` rotate(${o.rot})`:''));
 t.setAttribute('font-family',o.family||'"Liberation Sans",Arial,sans-serif');t.setAttribute('font-size',size);t.setAttribute('fill',o.fill||'#000');if(o.bold)t.setAttribute('font-weight',o.bold===true?'bold':o.bold);
 if(o.len){t.setAttribute('textLength',o.len);t.setAttribute('lengthAdjust','spacingAndGlyphs');}
 svg.appendChild(t);return t;}
const serif='"Liberation Serif","Times New Roman",serif';
// panel labels
[['M',357,166],['D0',971,166],['D1',1594,170]].forEach(a=>T(a[0],a[1],a[2],53,{bold:true,fill:'#FF0000'}));
[[300,382],[928,382],[1551,381]].forEach(a=>T('105 fs',a[0],a[1],56,{bold:true,fill:'#FF0000'}));
[[305,1001],[926,1001],[1550,1001]].forEach(a=>T('2500 fs',a[0],a[1],57,{bold:true,fill:'#FF0000'}));
// x title
T('ν',1025,1698,90,{family:serif});T('~',1028,1647,70,{family:serif,bold:true});T('1',1079,1729,50);
T('(1000 cm',1128,1696,88);T('-1',1500,1648,50);T(')',1549,1696,88);
// y title
T('ν',123,1122,90,{family:serif,rot:-90});T('~',76,1118,70,{family:serif,rot:-90,bold:true});T('3',158,1071,58,{rot:-90});
T('(1000 cm',123,992,88,{rot:-90});T('-1',75,623,50,{rot:-90});T(')',123,577,88,{rot:-90});
// cropped caption along the top edge
const cap=T('',-8,4,44,{family:'"Open Sans",sans-serif',fill:'#1F3864',len:2140,bold:600});
cap.innerHTML='5 (T = 200 fs) for the PBI monomer M and D0 and D1 dimers are shown in <tspan font-weight="bold">Figure 3.</tspan>';
</script>
</body></html>
